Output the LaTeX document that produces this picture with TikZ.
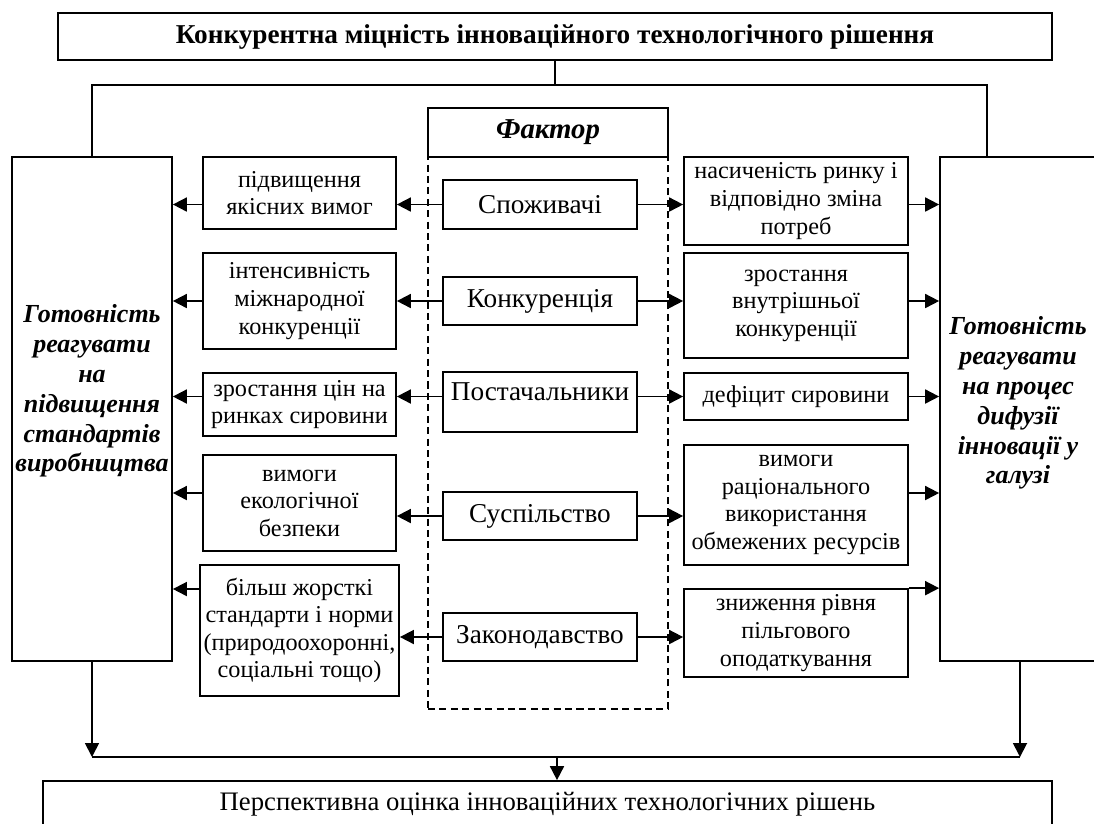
\documentclass[tikz,border=0pt]{standalone}
\usepackage{fontspec}
\setmainfont{Liberation Serif}
\usetikzlibrary{arrows.meta}

\newcommand\fsz{\fontsize{13.8}{15.7}\selectfont}
\newcommand\fmid{\fontsize{15.5}{17}\selectfont}
\newcommand\fbig{\fontsize{14.8}{17}\selectfont\bfseries\itshape}

\tikzset{
  box/.style={draw, line width=1pt, align=center, inner sep=2pt, font=\fsz},
  lcol/.style={box, minimum width=3.86cm},
  mcol/.style={box, minimum width=3.88cm, minimum height=.97cm, font=\fmid},
  rcol/.style={box, minimum width=4.48cm},
  bigtxt/.style={align=center, font=\fbig},
  link/.style={line width=1pt},
  arr/.style={line width=1pt, -{Triangle[length=.28cm,width=.28cm]}}
}

\begin{document}
\begin{tikzpicture}[x=.02cm,y=-.02cm]
\useasboundingbox (0,0) rectangle (1094,823);

% top and bottom
\node[box, minimum width=19.88cm, minimum height=.94cm, font=\fmid\bfseries] (top) at (555,36.5) {Конкурентна міцність інноваційного технологічного рішення};
\node[box, minimum width=20.18cm, minimum height=.94cm, font=\fontsize{15.2}{17}\selectfont] (bot) at (547.5,804.5) {Перспективна оцінка інноваційних технологічних рішень};

% side boxes
\node[box, minimum width=3.2cm, minimum height=10.08cm] (lbig) at (92,409) {};
\node[box, minimum width=3.2cm, minimum height=10.08cm] (rbig) at (1020,409) {};
\node[bigtxt] (ltxt) at (92,391) {Готовність\\реагувати\\на\\підвищення\\стандартів\\виробництва};
\node[bigtxt] (rtxt) at (1018,403) {Готовність\\реагувати\\на процес\\дифузії\\інновації у\\галузі};

% factor column
\node[draw, dash pattern=on 4pt off 2.5pt, line width=.8pt, minimum width=4.8cm, minimum height=11.04cm] (frame) at (548,433) {};
\node[box, fill=white, minimum width=4.8cm, minimum height=.98cm, font=\fontsize{16.4}{18}\selectfont\bfseries\itshape] (fac) at (548,132.5) {Фактор};

\node[mcol] (spo) at (540,204.5) {Споживачі};
\node[mcol] (kon) at (540,301) {Конкуренція};
\node[mcol, minimum height=1.2cm, text height=.38cm, text depth=.45cm] (pst) at (540,402) {Постачальники};
\node[mcol] (sus) at (540,516) {Суспільство};
\node[mcol] (zak) at (540,637) {Законодавство};

% left column
\node[lcol, minimum height=1.44cm] (l1) at (299.5,193) {підвищення\\якісних вимог};
\node[lcol, minimum height=1.92cm] (l2) at (299.5,301) {інтенсивність\\міжнародної\\конкуренції};
\node[lcol, minimum height=1.26cm] (l3) at (299.5,404.5) {зростання цін на\\ринках сировини};
\node[lcol, minimum height=1.92cm] (l4) at (299.5,503) {вимоги\\екологічної\\безпеки};
\node[lcol, minimum height=2.62cm] (l5) at (299.5,630.5) {більш жорсткі\\стандарти і норми\\(природоохоронні,\\соціальні тощо)};

% right column
\node[rcol, minimum height=1.76cm] (r1) at (796,201) {насиченість ринку і\\відповідно зміна\\потреб};
\node[rcol, minimum height=2.1cm] (r2) at (796,305.5) {зростання\\внутрішньої\\конкуренції};
\node[rcol, minimum height=.94cm] (r3) at (796,396.5) {дефіцит сировини};
\node[rcol, minimum height=2.4cm] (r4) at (796,505) {вимоги\\раціонального\\використання\\обмежених ресурсів};
\node[rcol, minimum height=1.76cm] (r5) at (796,633) {зниження рівня\\пільгового\\оподаткування};

% tree at the top
\coordinate (tj) at (555,85);
\coordinate (rt) at (987,157);
\draw[link] (top.south) -- (tj);
\draw[link] (lbig.north) |- (tj) -| (rt);

% rows
\draw[arr] (spo.west) -- (l1.east |- spo.west);
\draw[arr] (l1.west |- spo.west) -- (lbig.east |- spo.west);
\draw[arr] (spo.east) -- (r1.west |- spo.east);
\draw[arr] (r1.east |- spo.east) -- (rbig.west |- spo.east);

\draw[arr] (kon.west) -- (l2.east |- kon.west);
\draw[arr] (l2.west |- kon.west) -- (lbig.east |- kon.west);
\draw[arr] (kon.east) -- (r2.west |- kon.east);
\draw[arr] (r2.east |- kon.east) -- (rbig.west |- kon.east);

\draw[arr] (pst.west |- r3.west) -- (l3.east |- r3.west);
\draw[arr] (l3.west |- r3.west) -- (lbig.east |- r3.west);
\draw[arr] (pst.east |- r3.west) -- (r3.west);
\draw[arr] (r3.east) -- (rbig.west |- r3.east);

\coordinate (l4o) at ([yshift=.2cm]l4.west);
\coordinate (r4o) at ([yshift=.24cm]r4.east);
\draw[arr] (sus.west) -- (l4.east |- sus.west);
\draw[arr] (l4o) -- (lbig.east |- l4o);
\draw[arr] (sus.east) -- (r4.west |- sus.east);
\draw[arr] (r4o) -- (rbig.west |- r4o);

\coordinate (l5o) at ([yshift=.83cm]l5.west);
\draw[arr] (zak.west) -- (l5.east |- zak.west);
\draw[arr] (l5o) -- (lbig.east |- l5o);
\draw[arr] (zak.east) -- (r5.west |- zak.east);
\draw[arr] (r5.north east) -- (rbig.west |- r5.north east);

% bottom
\coordinate (bj) at (557,757);
\draw[link] (lbig.south |- bj) -- (rbig.south |- bj);
\draw[arr] (lbig.south) -- (lbig.south |- bj);
\draw[arr] (rbig.south) -- (rbig.south |- bj);
\draw[arr] (bj) -- (bj |- bot.north);
\end{tikzpicture}
\end{document}
